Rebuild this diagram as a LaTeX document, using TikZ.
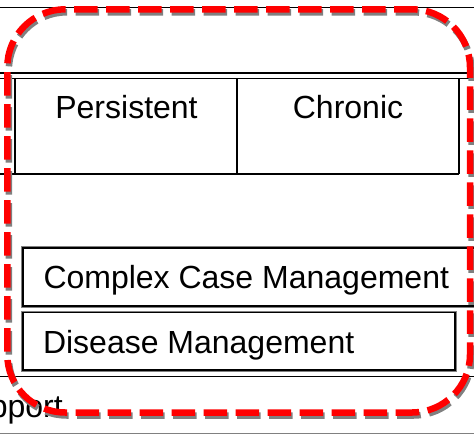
\documentclass[tikz,border=0pt]{standalone}
\usepackage{fontspec}
\setmainfont{Liberation Sans}
\begin{document}
\begin{tikzpicture}[x=1pt,y=-1pt,
  tline/.style={black, line width=1.6pt},
  thinline/.style={black, line width=1pt},
  lbl/.style={font=\fontsize{32}{38}\selectfont, inner sep=0pt},
  boxouter/.style={draw=gray, line width=0.8pt},
  boxinner/.style={draw=black, line width=1.1pt},
  focus/.style={draw=red, line width=6.5pt, dash pattern=on 23.5pt off 8.5pt, dash phase=27.3pt, rounded corners=58pt},
  focusshadow/.style={focus, draw=gray}]
\useasboundingbox (0,0) rectangle (474,434);
\fill[white] (0,0) rectangle (474,434);
% table lines
\draw[thinline] (0,7.3) -- (474,7.3);
\draw[tline] (0,73) -- (467,73);
\draw[tline] (0,78.3) -- (474,78.3);
\draw[tline] (0,174) -- (459,174);
\draw[tline] (15,78.3) -- (15,174);
\draw[tline] (237,78.3) -- (237,174);
\draw[tline] (459,78.3) -- (459,174);
% boxes
\draw[boxouter] (21.4,246.4) rectangle (482,307.6);
\draw[boxinner] (23,248) rectangle (480,306);
\draw[boxouter] (21.4,311.2) rectangle (456.6,371.6);
\draw[boxinner] (23,312.8) rectangle (455,370);
\draw[thinline] (0,376.5) -- (474,376.5);
\draw[gray, line width=1pt] (0,433) -- (474,433);
% texts
\node[lbl, anchor=base] (persistent) at (126.5,118.3) {Persistent};
\node[lbl, anchor=base] (chronic) at (348,118.3) {Chronic};
\node[lbl, anchor=base west] (complex) at (43.3,288.5) {Complex Case Management};
\node[lbl, anchor=base west] (disease) at (42.8,353.3) {Disease Management};
\node[lbl, anchor=base east] (support) at (63,417) {Support};
% highlight
\draw[focusshadow] (8.8,12.3) rectangle (471.5,415.5);
\draw[focus] (7.3,9.3) rectangle (470,412.5);
\end{tikzpicture}
\end{document}
